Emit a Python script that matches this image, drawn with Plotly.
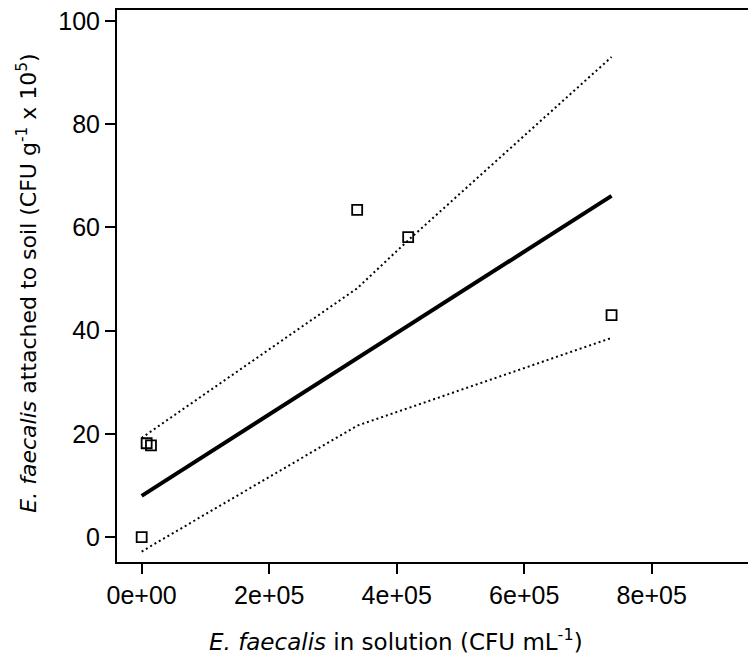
import plotly.graph_objects as go

# Observed counts: cells in solution vs. cells attached to soil
conc_solution = [0, 7800, 14600, 338000, 418000, 737000]
attached_soil = [0.0, 18.2, 17.8, 63.4, 58.1, 43.0]

# Fitted regression line (end points)
fit_x = [0, 737000]
fit_y = [8.0, 66.1]

# Confidence band evaluated at the observed concentrations
band_x = [0, 7800, 14600, 338000, 418000, 737000]
band_upper = [19.2, 19.9, 20.5, 48.2, 57.5, 93.0]
band_lower = [-2.8, -2.2, -1.7, 21.6, 25.0, 38.6]

x_ticks = [0, 200000, 400000, 600000, 800000]
x_tick_text = ["0e+00", "2e+05", "4e+05", "6e+05", "8e+05"]
y_ticks = [0, 20, 40, 60, 80, 100]

tick_font = dict(family="Liberation Sans", size=25, color="black")
xtitle_font = dict(family="DejaVu Sans", size=23, color="black")
ytitle_font = dict(family="DejaVu Sans", size=22, color="black")

fig = go.Figure()

dotted = dict(color="black", width=2, dash="2px,3px")
fig.add_trace(go.Scatter(x=band_x, y=band_upper, mode="lines", line=dotted,
                         hoverinfo="skip", showlegend=False))
fig.add_trace(go.Scatter(x=band_x, y=band_lower, mode="lines", line=dotted,
                         hoverinfo="skip", showlegend=False))
fig.add_trace(go.Scatter(x=fit_x, y=fit_y, mode="lines",
                         line=dict(color="black", width=4),
                         showlegend=False))
fig.add_trace(go.Scatter(x=conc_solution, y=attached_soil, mode="markers",
                         marker=dict(symbol="square-open", size=10, color="black",
                                     line=dict(color="black", width=1.8)),
                         showlegend=False))

fig.update_layout(
    width=748, height=664,
    margin=dict(l=117, r=0, t=10, b=102),
    paper_bgcolor="white", plot_bgcolor="white",
    xaxis=dict(range=[-38700, 951000], tickvals=x_ticks, ticktext=x_tick_text,
               showgrid=False, zeroline=False, showline=True, linecolor="black",
               linewidth=2, mirror=True, ticks="outside", ticklen=10, tickwidth=1.5,
               tickcolor="black", tickfont=tick_font),
    yaxis=dict(range=[-4.8, 102.1], tickvals=y_ticks,
               showgrid=False, zeroline=False, showline=True, linecolor="black",
               linewidth=2, ticks="outside", ticklen=10, tickwidth=1.5,
               tickcolor="black", tickfont=tick_font),
    annotations=[
        dict(text="<i>E. faecalis</i> in solution (CFU mL<sup>-1</sup>)",
             xref="paper", yref="paper", x=0.442, y=-0.141,
             xanchor="center", yanchor="middle", showarrow=False, font=xtitle_font),
        dict(text="<i>E. faecalis</i> attached to soil (CFU g<sup>-1</sup> x 10<sup>5</sup>)",
             xref="paper", yref="paper", x=-0.142, y=0.505, textangle=-90,
             xanchor="center", yanchor="middle", showarrow=False, font=ytitle_font),
    ],
)

fig.write_html("out.html")
